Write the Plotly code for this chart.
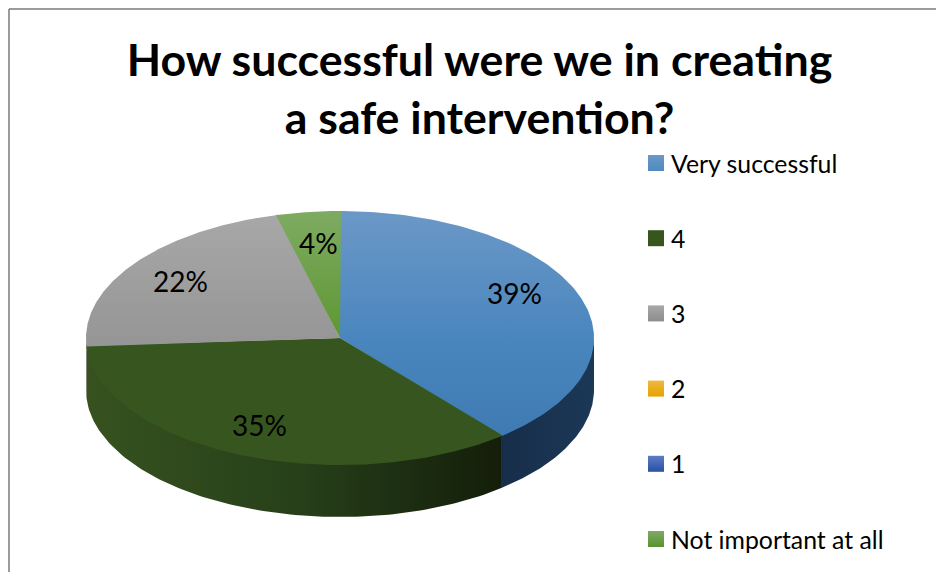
import numpy as np
import plotly.graph_objects as go

TITLE = "How successful were we in creating<br>a safe intervention?"
categories = ["Very successful", "4", "3", "2", "1", "Not important at all"]
shares = [39, 35, 22, 0, 0, 4]

# styling
top_scales = [
    [[0, "#6B98C7"], [0.5, "#4A86BE"], [1, "#3C77AF"]],
    [[0, "#37561F"], [1, "#37561F"]],
    [[0, "#A8A8A8"], [1, "#858585"]],
    [[0, "#F0B840"], [1, "#E5A300"]],
    [[0, "#5B7DC4"], [1, "#2A50A5"]],
    [[0, "#7EAB62"], [0.5, "#5E9732"], [1, "#5A9230"]],
]
side_scales = [
    [[0, "#172E4A"], [1, "#1C3857"]],
    [[0, "#37521F"], [0.5, "#27401A"], [1, "#141E0A"]],
    [[0, "#6A6A6A"], [1, "#6A6A6A"]],
    [[0, "#8A6200"], [1, "#8A6200"]],
    [[0, "#1B3570"], [1, "#1B3570"]],
    [[0, "#3C601F"], [1, "#3C601F"]],
]
legend_colors = ["#4F8AC0", "#37561F", "#8C8C8C", "#E5A300", "#2A50A5", "#5A9230"]
legend_tops = ["#6B98C7", "#37561F", "#A8A8A8", "#F0B840", "#5B7DC4", "#7EAB62"]
label_nudges = [(-4.5, -13), (-5, 0), (-5, -1), (0, 0), (0, 0), (2.5, -1)]

CX, CY, RX, RY, DEPTH = 340, 338, 254, 127, 52
LABEL_R = 0.75
LEG_X, LEG_Y, LEG_STEP, LEG_TEXT_X = 656, 163, 75.2, 670.5
SEAM = 0.004

fig = go.Figure()
total = sum(shares)
edges = np.concatenate([[0], np.cumsum(shares)]) / total * 2 * np.pi


def ell(t, dy=0.0):
    return CX + RX * np.sin(t), CY - RY * np.cos(t) + dy


# outer wall of the drum (front half only); it runs a little under the top face
for i, name in enumerate(categories):
    a, b = max(edges[i], np.pi / 2), min(edges[i + 1], 3 * np.pi / 2)
    if b <= a:
        continue
    t = np.linspace(a, b, 120)
    x1, y1 = ell(t, -3)
    x2, y2 = ell(t[::-1], DEPTH)
    xs = np.concatenate([x1, x2, x1[:1]])
    fig.add_trace(go.Scatter(
        x=xs, y=np.concatenate([y1, y2, y1[:1]]), mode="lines", line=dict(width=0),
        fill="toself", hoverinfo="skip", showlegend=False,
        fillgradient=dict(type="horizontal", colorscale=side_scales[i],
                          start=float(xs.min()), stop=float(xs.max())),
    ))

# top face; each slice overlaps its neighbour by a hair so no seam shows
for i, name in enumerate(categories):
    if shares[i] == 0:
        continue
    t = np.linspace(edges[i] - SEAM, edges[i + 1] + SEAM, 160)
    x, y = ell(t)
    fig.add_trace(go.Scatter(
        x=np.concatenate([[CX], x, [CX]]), y=np.concatenate([[CY], y, [CY]]),
        mode="lines", line=dict(width=0), fill="toself", showlegend=False,
        name=name, hoverinfo="skip",
        fillgradient=dict(type="vertical", colorscale=top_scales[i],
                          start=CY - RY, stop=CY + RY),
    ))

# legend entries
for i, name in enumerate(categories):
    fig.add_trace(go.Scatter(
        x=[LEG_X], y=[LEG_Y + i * LEG_STEP], mode="markers", name=name, showlegend=False,
        cliponaxis=False,
        marker=dict(symbol="square", size=16, color=legend_tops[i], line=dict(width=0),
                    gradient=dict(type="vertical", color=legend_colors[i])),
    ))
    fig.add_annotation(
        x=LEG_TEXT_X, y=LEG_Y + i * LEG_STEP, text=name, showarrow=False,
        xanchor="left", yanchor="middle", xshift=-2, yshift=0,
        font=dict(family="Lato", size=24.8, color="#000000"),
    )

# percent labels
for i, v in enumerate(shares):
    if v == 0:
        continue
    mid = (edges[i] + edges[i + 1]) / 2
    fig.add_annotation(
        x=CX + LABEL_R * RX * np.sin(mid), y=CY - LABEL_R * RY * np.cos(mid),
        text=f"{v}%", showarrow=False, xshift=label_nudges[i][0], yshift=-label_nudges[i][1],
        font=dict(family="Lato", size=28, color="#000000"),
    )

fig.update_layout(
    width=936, height=572, autosize=False, margin=dict(l=0, r=0, t=0, b=0),
    paper_bgcolor="#FFFFFF", plot_bgcolor="#FFFFFF", showlegend=False,
    title=dict(text=TITLE, x=479.5 / 936, xanchor="center", y=1 - 76 / 572, yanchor="top",
               font=dict(family="Lato", size=44.7, color="#000000", weight="bold"),
               automargin=False),
    xaxis=dict(range=[0, 936], visible=False, fixedrange=True),
    yaxis=dict(range=[572, 0], visible=False, fixedrange=True),
    shapes=[
        dict(type="line", xref="paper", yref="paper", x0=9 / 936, x1=9 / 936, y0=0, y1=1 - 9 / 572,
             line=dict(color="#7A7A7A", width=1.5)),
        dict(type="line", xref="paper", yref="paper", x0=9 / 936, x1=1, y0=1 - 9 / 572, y1=1 - 9 / 572,
             line=dict(color="#7A7A7A", width=1.5)),
    ],
)

fig.write_html("out.html", config=dict(displayModeBar=False),
               post_script="document.body.style.margin='0';")
